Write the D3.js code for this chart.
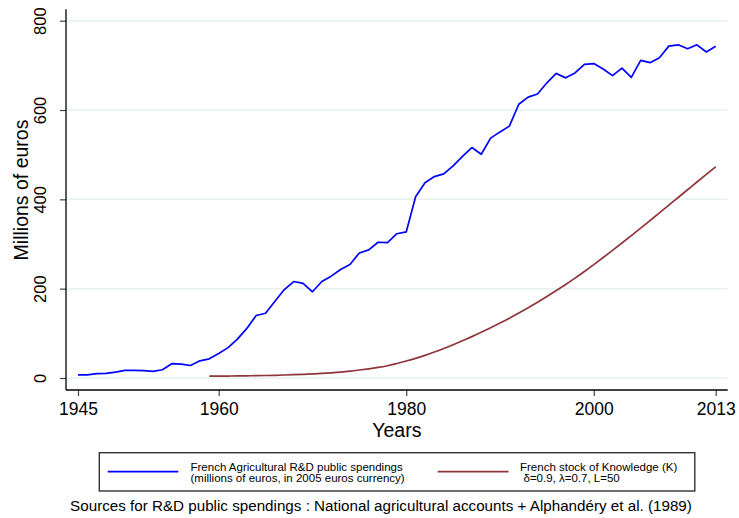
<!DOCTYPE html>
<html lang="en">
<head>
<meta charset="UTF-8">
<title>French agricultural R&amp;D and stock of knowledge</title>
<script src="https://cdnjs.cloudflare.com/ajax/libs/d3/7.8.5/d3.min.js"></script>
<style>
  body { margin: 0; background: #fff; }
  svg { display: block; font-family: "Liberation Sans", Arial, sans-serif; }
</style>
</head>
<body>
<div id="chart"></div>
<script>
// R&D public spendings, millions of euros (2005), one value per year from 1945
const spendStart = 1945;
const spendValues = [
  7, 7, 10, 10.5, 13, 17, 17, 16.5, 15, 18.5,
  32, 31, 28, 38.5, 43, 55, 68, 87, 111, 140,
  145, 172, 198, 216, 212, 193, 216, 228, 243, 254,
  280, 287, 304, 303, 323, 327, 406, 437, 451, 457,
  475, 496, 516, 501, 537, 551, 564, 613, 629, 636,
  661, 682, 672, 683, 702, 704, 692, 677, 694, 673,
  711, 706, 717, 743, 746, 737, 746, 730, 743
];

// stock of knowledge K, one value per year from 1959
const stockStart = 1959;
const stockValues = [
  4.0, 4.2, 4.4, 4.6, 4.9, 5.2, 5.6, 6.1, 6.7, 7.4,
  8.2, 9.1, 10.2, 11.6, 13.3, 15.4, 17.9, 20.6, 23.6, 27.5,
  32.5, 38.0, 44.0, 50.7, 58.1, 66.1, 74.6, 83.5, 92.7, 102.3,
  112.4, 123.0, 134.0, 145.5, 157.4, 169.8, 182.6, 195.9, 209.5, 223.7,
  238.5, 253.9, 269.7, 285.8, 302.2, 318.8, 335.6, 352.6, 369.7, 386.9,
  404.2, 421.5, 438.8, 456.0, 473.0
];

const xTicks = [1945, 1960, 1980, 2000, 2013];
const yTicks = [0, 200, 400, 600, 800];

const spend = spendValues.map((v, i) => ({ year: spendStart + i, value: v }));
const stock = stockValues.map((v, i) => ({ year: stockStart + i, value: v }));

const W = 739, H = 518;
const plotLeft = 66, plotRight = 727.7, plotTop = 9.3, axisY = 390;

const svg = d3.select("#chart").append("svg")
  .attr("width", W).attr("height", H);

svg.append("rect").attr("width", W).attr("height", H).attr("fill", "#fff");

const x = d3.scaleLinear().domain([1945, 2013]).range([78, 715.7]);
const y = d3.scaleLinear().domain([0, 800]).range([378, 20.7]);

// gridlines
svg.append("g")
  .selectAll("line")
  .data(yTicks)
  .join("line")
  .attr("x1", plotLeft).attr("x2", plotRight)
  .attr("y1", d => y(d)).attr("y2", d => y(d))
  .attr("stroke", "#e9f0f2")
  .attr("stroke-width", 1.5);

// lines
svg.append("path")
  .datum(stock)
  .attr("fill", "none")
  .attr("stroke", "#90353b")
  .attr("stroke-width", 1.7)
  .attr("d", d3.line().x(d => x(d.year)).y(d => y(d.value)).curve(d3.curveMonotoneX));

svg.append("path")
  .datum(spend)
  .attr("fill", "none")
  .attr("stroke", "#0000ff")
  .attr("stroke-width", 1.7)
  .attr("stroke-linejoin", "round")
  .attr("d", d3.line().x(d => x(d.year)).y(d => y(d.value)));

// x axis
const xAxis = svg.append("g")
  .attr("transform", `translate(0,${axisY})`)
  .call(d3.axisBottom(x).tickValues(xTicks).tickFormat(d3.format("d"))
    .tickSize(6).tickSizeOuter(0).tickPadding(7));
xAxis.select(".domain").remove();
xAxis.selectAll(".tick line").attr("stroke", "#444").attr("stroke-width", 1.2);
xAxis.selectAll(".tick text")
  .attr("fill", "#000")
  .style("font-size", "17.5px")
  .style("font-family", "'Liberation Sans', Arial, sans-serif");

// y axis
const yAxis = svg.append("g")
  .attr("transform", `translate(${plotLeft},0)`)
  .call(d3.axisLeft(y).tickValues(yTicks).tickSize(6).tickSizeOuter(0));
yAxis.select(".domain").remove();
yAxis.selectAll(".tick line").attr("stroke", "#444").attr("stroke-width", 1.2);
yAxis.selectAll(".tick text")
  .attr("fill", "#000")
  .attr("x", null).attr("dy", null)
  .attr("transform", "translate(-20,0) rotate(-90)")
  .attr("text-anchor", "middle")
  .style("font-size", "16.5px")
  .style("font-family", "'Liberation Sans', Arial, sans-serif");

// axis lines
svg.append("line")
  .attr("x1", plotLeft).attr("x2", plotLeft)
  .attr("y1", plotTop).attr("y2", axisY)
  .attr("stroke", "#000").attr("stroke-width", 1.3);
svg.append("line")
  .attr("x1", plotLeft).attr("x2", plotRight)
  .attr("y1", axisY).attr("y2", axisY)
  .attr("stroke", "#000").attr("stroke-width", 1.3);

// axis titles
svg.append("text")
  .attr("x", (plotLeft + plotRight) / 2).attr("y", 437)
  .attr("text-anchor", "middle")
  .style("font-size", "19.5px")
  .text("Years");

svg.append("text")
  .attr("transform", "translate(27.5,190) rotate(-90)")
  .attr("text-anchor", "middle")
  .style("font-size", "19.5px")
  .text("Millions of euros");

// legend
const legend = svg.append("g");
legend.append("rect")
  .attr("x", 99.3).attr("y", 452.7)
  .attr("width", 595.5).attr("height", 38.3)
  .attr("fill", "#fff")
  .attr("stroke", "#333").attr("stroke-width", 1.4);

const legendItems = [
  { color: "#0000ff", x1: 107.7, x2: 178.3, tx: [190.5, 190.5],
    lines: ["French Agricultural R&D public spendings", "(millions of euros, in 2005 euros currency)"] },
  { color: "#90353b", x1: 437.7, x2: 508.5, tx: [520, 523.5],
    lines: ["French stock of Knowledge (K)", "δ=0.9, λ=0.7, L=50"] }
];

const item = legend.selectAll("g.item")
  .data(legendItems)
  .join("g")
  .attr("class", "item");

item.append("line")
  .attr("x1", d => d.x1).attr("x2", d => d.x2)
  .attr("y1", 471.7).attr("y2", 471.7)
  .attr("stroke", d => d.color)
  .attr("stroke-width", 1.7);

item.append("text")
  .attr("y", 470.5)
  .style("font-size", "11.5px")
  .selectAll("tspan")
  .data(d => d.lines.map((t, i) => ({ t, x: d.tx[i] })))
  .join("tspan")
  .attr("x", d => d.x)
  .attr("dy", (d, i) => i === 0 ? 0 : 11.8)
  .text(d => d.t);

// source note
svg.append("text")
  .attr("x", 381).attr("y", 510.5)
  .attr("text-anchor", "middle")
  .style("font-size", "15.2px")
  .text("Sources for R&D public spendings : National agricultural accounts + Alphandéry et al. (1989)");
</script>
</body>
</html>
